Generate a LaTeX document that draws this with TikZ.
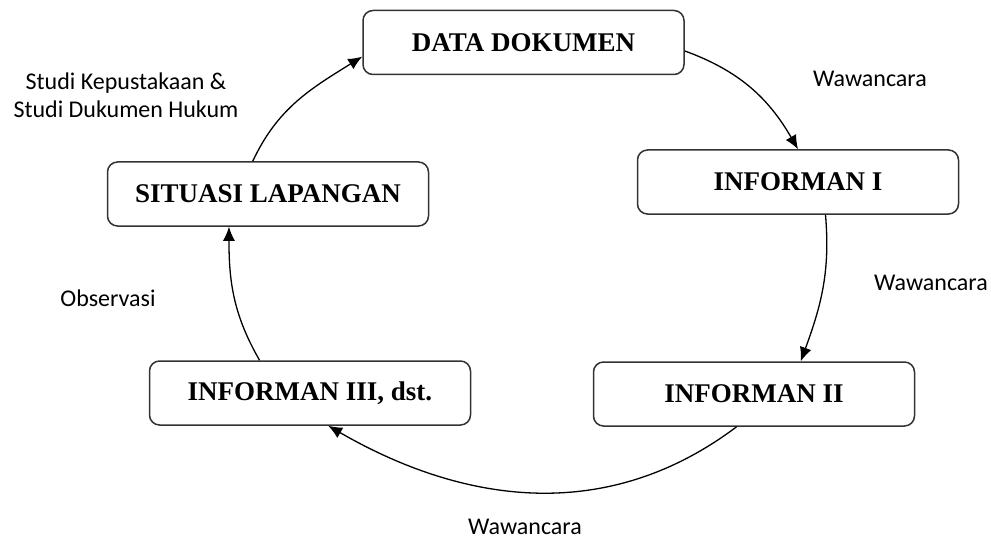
\documentclass[tikz,border=0pt]{standalone}
\usepackage{fontspec}
\setmainfont{Liberation Serif}
\newfontfamily\labelfont{Carlito}
\usetikzlibrary{arrows.meta}

\begin{document}
\begin{tikzpicture}[x=0.5pt, y=0.5pt,
    stage/.style={draw=black!80, line width=0.75pt, rounded corners=5pt,
      minimum width=160.5pt, minimum height=32pt,
      font=\fontsize{13.5}{16}\selectfont\bfseries},
    lbl/.style={font=\labelfont\fontsize{12}{14}\selectfont, align=center},
    flow/.style={-{Latex[length=7pt,width=6pt]}, line width=0.65pt}]
    \useasboundingbox (0,0) rectangle (991,542);
    % stages of the cycle
    \node[stage] (data) at (523.5,499.5) {DATA DOKUMEN};
    \node[stage] (inf1) at (798,360) {INFORMAN I};
    \node[stage] (inf2) at (754,148) {INFORMAN II};
    \node[stage] (inf3) at (310,149) {INFORMAN III, dst.};
    \node[stage] (situasi) at (268,348) {SITUASI LAPANGAN};
    % methods
    \node[lbl] (w1) at (870,463) {Wawancara};
    \node[lbl] (w2) at (931,259) {Wawancara};
    \node[lbl] (w3) at (525,15) {Wawancara};
    \node[lbl] (obs) at (108,244) {Observasi};
    \node[lbl] (studi) at (126,447) {Studi Kepustakaan \&\\Studi Dukumen Hukum};
    % arrows round the cycle
    \draw[flow] (data.-3) to[out=-20, in=120] (inf1.north);
    \draw[flow] (inf1.-50) to[out=-85, in=70] (inf2.35);
    \draw[flow] (inf2.-118) to[out=-143, in=-30] (inf3.-61);
    \draw[flow] (inf3.147) to[out=120, in=-90] (situasi.220);
    \draw[flow] (situasi.115) to[out=65, in=-148] (data.185);
\end{tikzpicture}
\end{document}
